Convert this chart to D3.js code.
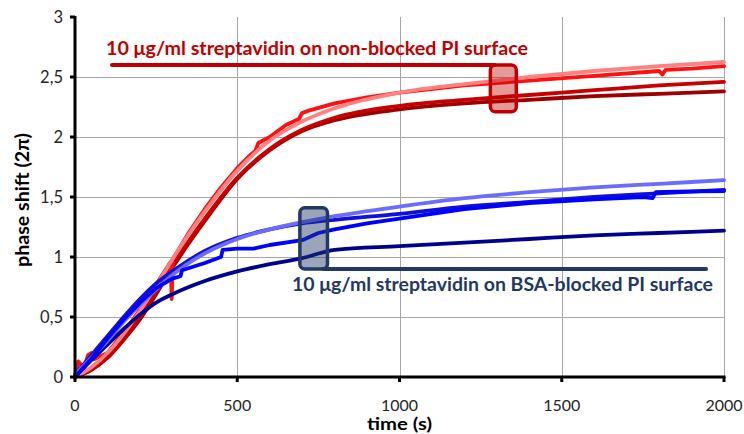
<!DOCTYPE html>
<html>
<head>
<meta charset="utf-8">
<script src="https://cdn.jsdelivr.net/npm/d3@7"></script>
<style>
  html, body { margin: 0; padding: 0; background: #fff; }
  svg { display: block; }
</style>
</head>
<body>
<svg id="chart" width="744" height="434"></svg>
<script>
// ---- data -----------------------------------------------------------
const xTicks = [0, 500, 1000, 1500, 2000];
const yTicks = [0, 0.5, 1, 1.5, 2, 2.5, 3];
const yTickLabels = ["0", "0,5", "1", "1,5", "2", "2,5", "3"];

// shared time grid for the smooth (fitted) curves
const tFit = [0, 50, 100, 150, 200, 250, 300, 400, 500, 600, 700, 800, 1000, 1200, 1400, 1600, 1800, 2000];

// non-blocked PI surface
const redFit     = [0, 0.08, 0.2, 0.36, 0.55, 0.76, 0.98, 1.38, 1.72, 1.97, 2.13, 2.24, 2.37, 2.44, 2.5, 2.55, 2.59, 2.625];
const redMid     = [0, 0.06, 0.17, 0.32, 0.5, 0.71, 0.93, 1.32, 1.66, 1.9, 2.06, 2.16, 2.26, 2.31, 2.35, 2.39, 2.43, 2.46];
const redDark    = [0, 0.06, 0.16, 0.31, 0.48, 0.69, 0.91, 1.3, 1.65, 1.89, 2.05, 2.14, 2.23, 2.28, 2.31, 2.34, 2.36, 2.38];
const tRedData   = [0, 10, 20, 25, 40, 50, 60, 100, 150, 200, 250, 295, 298, 301, 350, 400, 450, 500, 540, 555, 565, 600, 650, 690, 700, 720, 800, 900, 1000, 1200, 1400, 1600, 1800, 1810, 1820, 1900, 2000];
const redData    = [0, 0.13, 0.1, 0.05, 0.18, 0.2, 0.15, 0.2, 0.37, 0.56, 0.77, 0.96, 0.65, 0.98, 1.2, 1.4, 1.58, 1.74, 1.85, 1.88, 1.95, 2.0, 2.1, 2.15, 2.2, 2.22, 2.28, 2.33, 2.37, 2.43, 2.47, 2.51, 2.55, 2.52, 2.56, 2.57, 2.59];

// BSA-blocked PI surface
const blueFit    = [0.02, 0.16, 0.3, 0.46, 0.6, 0.73, 0.85, 1.03, 1.15, 1.23, 1.29, 1.34, 1.42, 1.49, 1.54, 1.58, 1.61, 1.64];
const blueUpper  = [0.02, 0.18, 0.34, 0.5, 0.65, 0.78, 0.88, 1.05, 1.16, 1.23, 1.28, 1.31, 1.36, 1.42, 1.46, 1.5, 1.53, 1.56];
const blueNavy   = [0, 0.14, 0.27, 0.4, 0.52, 0.62, 0.69, 0.8, 0.88, 0.94, 0.99, 1.06, 1.09, 1.12, 1.15, 1.18, 1.2, 1.22];
const tBlueData  = [0, 50, 100, 150, 200, 250, 300, 325, 330, 400, 450, 455, 500, 550, 600, 700, 750, 800, 900, 1000, 1200, 1400, 1600, 1750, 1780, 1790, 1850, 2000];
const blueData   = [0, 0.15, 0.32, 0.48, 0.62, 0.74, 0.82, 0.84, 0.89, 0.95, 1.0, 1.06, 1.07, 1.07, 1.1, 1.14, 1.2, 1.23, 1.28, 1.32, 1.4, 1.45, 1.48, 1.5, 1.49, 1.54, 1.545, 1.55];

// ---- layout ---------------------------------------------------------
const svg = d3.select("#chart");
const x = d3.scaleLinear().domain([0, 2000]).range([75, 724]);
const y = d3.scaleLinear().domain([0, 3]).range([377, 17]);
const font = "Lato, 'Open Sans', sans-serif";

// gridlines
const grid = svg.append("g").attr("stroke", "#a6a6a6").attr("stroke-width", 1);
grid.selectAll("line.h").data(yTicks.filter(v => v > 0 && v < 3)).join("line")
  .attr("x1", x(0)).attr("x2", x(2000))
  .attr("y1", d => Math.round(y(d)) + 0.5).attr("y2", d => Math.round(y(d)) + 0.5);
grid.selectAll("line.v").data(xTicks.filter(v => v > 0)).join("line")
  .attr("x1", d => Math.round(x(d)) + 0.5).attr("x2", d => Math.round(x(d)) + 0.5)
  .attr("y1", y(3)).attr("y2", y(0));

// curves
const smooth = d3.line().x((d) => x(d[0])).y(d => y(d[1])).curve(d3.curveMonotoneX);
const raw = d3.line().x((d) => x(d[0])).y(d => y(d[1]));
const zip = (ts, vs) => ts.map((t, i) => [t, vs[i]]);

const series = [
  { t: tFit, v: redDark,   color: "#9c0000", gen: smooth },
  { t: tFit, v: redMid,    color: "#c80000", gen: smooth },
  { t: tRedData, v: redData, color: "#ff1010", gen: raw },
  { t: tFit, v: redFit,    color: "#ff8080", gen: smooth },
  { t: tFit, v: blueNavy,  color: "#00008f", gen: smooth },
  { t: tFit, v: blueUpper, color: "#1010d8", gen: smooth },
  { t: tFit, v: blueFit,   color: "#6b6bff", gen: smooth },
  { t: tBlueData, v: blueData, color: "#0000ff", gen: raw }
];
svg.append("g").selectAll("path").data(series).join("path")
  .attr("d", s => s.gen(zip(s.t, s.v)))
  .attr("fill", "none")
  .attr("stroke", s => s.color)
  .attr("stroke-width", 3.8)
  .attr("stroke-linejoin", "round")
  .attr("stroke-linecap", "round");

// axes
const axes = svg.append("g").attr("stroke", "#000");
axes.append("line").attr("x1", x(0)).attr("x2", x(0)).attr("y1", y(3) - 1).attr("y2", y(0) + 1.5).attr("stroke-width", 3);
axes.append("line").attr("x1", x(0) - 1.5).attr("x2", x(2000) + 1.5).attr("y1", y(0)).attr("y2", y(0)).attr("stroke-width", 3);
axes.selectAll("line.yt").data(yTicks).join("line")
  .attr("x1", x(0) - 5).attr("x2", x(0)).attr("y1", d => y(d)).attr("y2", d => y(d)).attr("stroke-width", 3);
axes.selectAll("line.xt").data(xTicks).join("line")
  .attr("x1", d => x(d)).attr("x2", d => x(d)).attr("y1", y(0)).attr("y2", y(0) + 5).attr("stroke-width", 3);

// tick labels
svg.append("g").selectAll("text").data(yTicks).join("text")
  .attr("x", 63).attr("y", d => y(d) + 5.5)
  .attr("text-anchor", "end")
  .attr("font-family", font).attr("font-size", 16.5).attr("fill", "#262626")
  .text((d, i) => yTickLabels[i]);
svg.append("g").selectAll("text").data(xTicks).join("text")
  .attr("x", d => x(d)).attr("y", 411)
  .attr("text-anchor", "middle")
  .attr("font-family", font).attr("font-size", 16).attr("fill", "#262626")
  .text(d => d);

// axis titles
svg.append("text")
  .attr("x", x(1000)).attr("y", 430)
  .attr("text-anchor", "middle")
  .attr("font-family", font).attr("font-size", 17).attr("font-weight", "bold")
  .attr("textLength", 65).attr("lengthAdjust", "spacingAndGlyphs")
  .text("time (s)");
svg.append("text")
  .attr("transform", "translate(29,200) rotate(-90)")
  .attr("text-anchor", "middle")
  .attr("font-family", font).attr("font-size", 18).attr("font-weight", "bold")
  .attr("textLength", 134).attr("lengthAdjust", "spacingAndGlyphs")
  .text("phase shift (2π)");

// callout: non-blocked surface
const redBox = { t0: 1280, t1: 1360, v0: 2.21, v1: 2.6 };
svg.append("line")
  .attr("x1", 112).attr("x2", x(redBox.t0) + 4)
  .attr("y1", y(redBox.v1)).attr("y2", y(redBox.v1))
  .attr("stroke", "#c00000").attr("stroke-width", 4).attr("stroke-linecap", "round");
svg.append("rect")
  .attr("x", x(redBox.t0)).attr("y", y(redBox.v1))
  .attr("width", x(redBox.t1) - x(redBox.t0)).attr("height", y(redBox.v0) - y(redBox.v1))
  .attr("rx", 5)
  .attr("fill", "rgba(192,0,0,0.4)").attr("stroke", "#c00000").attr("stroke-width", 3.5);
svg.append("text")
  .attr("x", 106).attr("y", 55)
  .attr("font-family", font).attr("font-size", 18).attr("font-weight", "bold")
  .attr("fill", "#c00000")
  .attr("textLength", 422).attr("lengthAdjust", "spacingAndGlyphs")
  .text("10 μg/ml streptavidin on non-blocked PI surface");

// callout: BSA-blocked surface
const blueBox = { t0: 693, t1: 778, v0: 0.9, v1: 1.41 };
svg.append("line")
  .attr("x1", x(blueBox.t1) - 4).attr("x2", 706)
  .attr("y1", y(blueBox.v0)).attr("y2", y(blueBox.v0))
  .attr("stroke", "#1f3864").attr("stroke-width", 4).attr("stroke-linecap", "round");
svg.append("rect")
  .attr("x", x(blueBox.t0)).attr("y", y(blueBox.v1))
  .attr("width", x(blueBox.t1) - x(blueBox.t0)).attr("height", y(blueBox.v0) - y(blueBox.v1))
  .attr("rx", 5)
  .attr("fill", "rgba(31,56,100,0.45)").attr("stroke", "#1f3864").attr("stroke-width", 3.5);
svg.append("text")
  .attr("x", 292).attr("y", 291)
  .attr("font-family", font).attr("font-size", 18).attr("font-weight", "bold")
  .attr("fill", "#1f3864")
  .attr("textLength", 421).attr("lengthAdjust", "spacingAndGlyphs")
  .text("10 μg/ml streptavidin on BSA-blocked PI surface");
</script>
</body>
</html>
